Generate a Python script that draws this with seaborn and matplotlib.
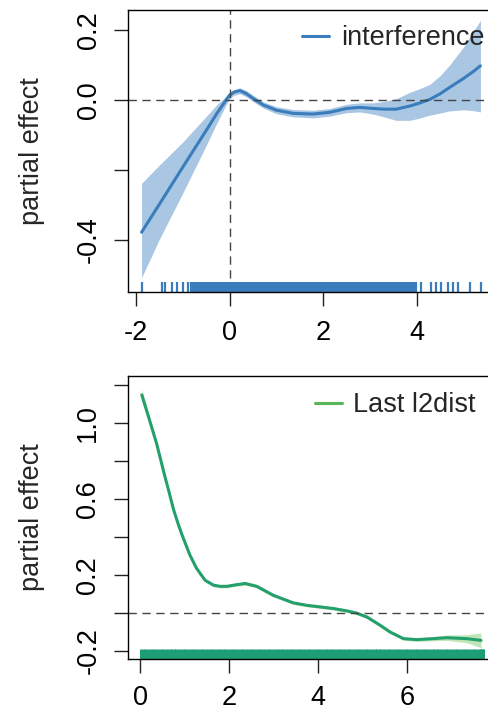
import matplotlib
matplotlib.use("Agg")
import matplotlib.pyplot as plt
from matplotlib.lines import Line2D
import seaborn as sns
import pandas as pd

sns.set_style("ticks")
plt.rcParams["font.family"] = ["Liberation Sans", "DejaVu Sans"]
plt.rcParams["font.size"] = 19.5

# --- panel 1: interference ---
x_int = [-1.88, -1.5, -1.0, -0.5, -0.28, -0.1, 0.0, 0.1, 0.22, 0.35, 0.5, 0.72,
         1.0, 1.36, 1.78, 2.14, 2.5, 2.78, 3.07, 3.3, 3.56, 3.85, 4.05, 4.28,
         4.5, 4.7, 5.0, 5.2, 5.36]
fit_int = [-0.378, -0.298, -0.192, -0.087, -0.040, -0.005, 0.014, 0.023, 0.027, 0.019,
           0.005, -0.014, -0.029, -0.038, -0.040, -0.035, -0.024, -0.021, -0.024, -0.026,
           -0.026, -0.017, -0.009, 0.002, 0.018, 0.036, 0.062, 0.081, 0.098]
lo_int = [-0.508, -0.398, -0.266, -0.130, -0.068, -0.020, 0.004, 0.014, 0.018, 0.010,
          -0.004, -0.023, -0.039, -0.048, -0.051, -0.046, -0.036, -0.034, -0.040, -0.048,
          -0.058, -0.058, -0.052, -0.043, -0.037, -0.031, -0.028, -0.030, -0.034]
hi_int = [-0.238, -0.186, -0.120, -0.047, -0.014, 0.008, 0.022, 0.030, 0.035, 0.028,
          0.014, -0.005, -0.019, -0.027, -0.029, -0.024, -0.012, -0.008, -0.008, -0.004,
          0.004, 0.022, 0.032, 0.045, 0.070, 0.100, 0.152, 0.195, 0.228]
rug_int_sparse = [-1.88, -1.45, -1.38, -1.24, -1.12, -0.99, -0.88,
                  3.99, 4.10, 4.31, 4.42, 4.52, 4.67, 4.77, 4.88, 5.13, 5.38]
rug_int_dense = [-0.80, -0.72, -0.64, -0.56, -0.48, -0.40, -0.32, -0.24, -0.16, -0.08,
                 0.00, 0.08, 0.16, 0.24, 0.32, 0.40, 0.48, 0.56, 0.64, 0.72,
                 0.80, 0.88, 0.96, 1.04, 1.12, 1.20, 1.28, 1.36, 1.44, 1.52,
                 1.60, 1.68, 1.76, 1.84, 1.92, 2.00, 2.08, 2.16, 2.24, 2.32,
                 2.40, 2.48, 2.56, 2.64, 2.72, 2.80, 2.88, 2.96, 3.04, 3.12,
                 3.20, 3.28, 3.36, 3.44, 3.52, 3.60, 3.68, 3.76, 3.84, 3.92]

# --- panel 2: Last l2dist ---
x_l2 = [0.04, 0.19, 0.37, 0.56, 0.66, 0.75, 0.85, 0.94, 1.12, 1.27, 1.46, 1.65, 1.8, 1.95,
        2.15, 2.36, 2.62, 2.99, 3.44, 3.75, 4.04, 4.35, 4.64, 4.85, 5.09, 5.39,
        5.61, 5.91, 6.21, 6.58, 6.88, 7.33, 7.65]
fit_l2 = [1.146, 1.032, 0.892, 0.716, 0.628, 0.545, 0.472, 0.412, 0.304, 0.234, 0.172, 0.146,
          0.14, 0.14, 0.148, 0.155, 0.14, 0.093, 0.053, 0.04, 0.032, 0.023, 0.011, 0.0,
          -0.021, -0.065, -0.1, -0.135, -0.14, -0.135, -0.13, -0.135, -0.144]
lo_l2 = [1.114, 1.012, 0.878, 0.704, 0.617, 0.535, 0.463, 0.403, 0.296, 0.226, 0.164, 0.138,
         0.132, 0.132, 0.14, 0.146, 0.131, 0.085, 0.045, 0.032, 0.024, 0.015, 0.003, -0.008,
         -0.029, -0.073, -0.108, -0.143, -0.149, -0.146, -0.144, -0.156, -0.183]
hi_l2 = [1.178, 1.052, 0.906, 0.728, 0.639, 0.555, 0.481, 0.421, 0.312, 0.242, 0.18, 0.154,
         0.148, 0.148, 0.156, 0.164, 0.149, 0.101, 0.061, 0.048, 0.04, 0.031, 0.019, 0.008,
         -0.013, -0.057, -0.092, -0.127, -0.131, -0.124, -0.116, -0.114, -0.105]
rug_l2 = [0.04, 0.14, 0.24, 0.34, 0.44, 0.54, 0.64, 0.74, 0.84, 0.94,
          1.04, 1.14, 1.24, 1.34, 1.44, 1.54, 1.64, 1.74, 1.84, 1.94,
          2.04, 2.14, 2.24, 2.34, 2.44, 2.54, 2.64, 2.74, 2.84, 2.94,
          3.04, 3.14, 3.24, 3.34, 3.44, 3.54, 3.64, 3.74, 3.84, 3.94,
          4.04, 4.14, 4.24, 4.34, 4.44, 4.54, 4.64, 4.74, 4.84, 4.94,
          5.04, 5.14, 5.24, 5.34, 5.44, 5.54, 5.64, 5.74, 5.84, 5.94,
          6.04, 6.14, 6.24, 6.34, 6.44, 6.54, 6.64, 6.74, 6.84, 6.94,
          7.04, 7.14, 7.24, 7.34, 7.44, 7.54, 7.64, 7.68]

blue = "#3a7dbd"
blue_band = "#a9c6e3"
green = "#23a06c"
green_band = "#c2e5b8"
green_leg = "#5ab55a"
green_rug = "#1e9e74"

fig = plt.figure(figsize=(4.88, 7.11), dpi=100)
ax1 = fig.add_axes([0.2623, 0.5893, 0.75, 0.3973])
ax2 = fig.add_axes([0.2617, 0.0731, 0.755, 0.3985])


def style_axes(ax, label_x, xpad):
    for side in ["left", "bottom", "top", "right"]:
        ax.spines[side].set_color("black")
        ax.spines[side].set_linewidth(1.0)
    ax.tick_params(axis="both", length=10, width=1.0, color="#222222",
                   labelsize=19.5, labelcolor="black")
    ax.tick_params(axis="x", pad=xpad)
    ax.tick_params(axis="y", pad=9)
    ax.set_xlabel("")
    ax.set_ylabel("partial effect", fontsize=19.5, va="center")
    ax.yaxis.set_label_coords(label_x, 0.5)


# top panel
df_int = pd.DataFrame({"x": x_int, "fit": fit_int})
ax1.fill_between(x_int, lo_int, hi_int, color=blue_band, lw=0)
sns.lineplot(data=df_int, x="x", y="fit", ax=ax1, color=blue, linewidth=2.2)
ax1.axhline(0, color="#444444", lw=1, ls=(0, (6, 4)))
ax1.axvline(0, color="#444444", lw=1, ls=(0, (6, 4)))
sns.rugplot(x=rug_int_sparse, ax=ax1, color=blue, height=0.037, linewidth=1.6)
sns.rugplot(x=rug_int_dense, ax=ax1, color=blue, height=0.037, linewidth=3)
ax1.set_xlim(-2.17, 5.65)
ax1.set_ylim(-0.549, 0.259)
ax1.set_xticks([-2, 0, 2, 4])
ax1.set_xticklabels(["-2", "0", "2", "4"])
ax1.set_yticks([-0.4, -0.2, 0.0, 0.2])
ax1.set_yticklabels(["-0.4", "", "0.0", "0.2"], rotation=90, va="center")
style_axes(ax1, -0.262, 10.5)
ax1.legend(handles=[Line2D([], [], color=blue, lw=2.2)], labels=["interference"],
           loc="center left", bbox_to_anchor=(0.475, 0.899), frameon=False,
           handlelength=1.0, handletextpad=0.44, fontsize=19.5,
           borderaxespad=0, borderpad=0)

# bottom panel
df_l2 = pd.DataFrame({"x": x_l2, "fit": fit_l2})
ax2.fill_between(x_l2, lo_l2, hi_l2, color=green_band, lw=0)
sns.lineplot(data=df_l2, x="x", y="fit", ax=ax2, color=green, linewidth=2.2)
ax2.axhline(0, color="#444444", lw=1, ls=(0, (6, 4)))
sns.rugplot(x=rug_l2, ax=ax2, color=green_rug, height=0.036, linewidth=3.6)
ax2.set_xlim(-0.276, 7.99)
ax2.set_ylim(-0.242, 1.247)
ax2.set_xticks([0, 2, 4, 6])
ax2.set_xticklabels(["0", "2", "4", "6"])
ax2.set_yticks([-0.2, 0.0, 0.2, 0.4, 0.6, 0.8, 1.0, 1.2])
ax2.set_yticklabels(["-0.2", "", "0.2", "", "0.6", "", "1.0", ""], rotation=90, va="center")
style_axes(ax2, -0.26, 9)
ax2.legend(handles=[Line2D([], [], color=green_leg, lw=2.2)], labels=["Last l2dist"],
           loc="center left", bbox_to_anchor=(0.5086, 0.8966), frameon=False,
           handlelength=1.0, handletextpad=0.4, fontsize=19.5,
           borderaxespad=0, borderpad=0)

fig.savefig("out.png", dpi=100)
